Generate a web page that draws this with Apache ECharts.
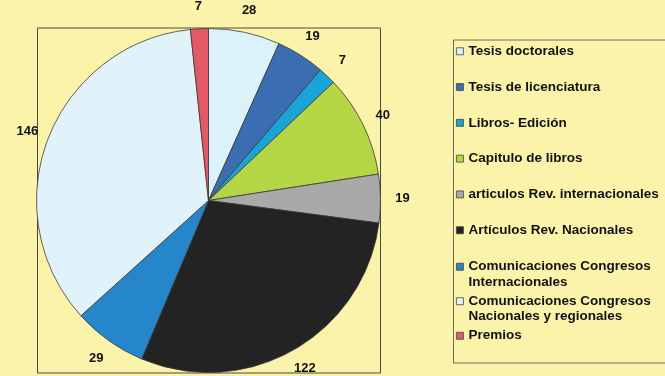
<!DOCTYPE html>
<html>
<head>
<meta charset="utf-8">
<script src="https://cdn.jsdelivr.net/npm/echarts@6/dist/echarts.min.js"></script>
<style>
html,body{margin:0;padding:0;background:#fcf3ab;}
#c{width:665px;height:376px;}
</style>
</head>
<body>
<div id="c"></div>
<script>
const categories = [
  'Tesis doctorales',
  'Tesis de licenciatura',
  'Libros- Edición',
  'Capitulo de libros',
  'articulos Rev. internacionales',
  'Artículos Rev. Nacionales',
  'Comunicaciones Congresos Internacionales',
  'Comunicaciones Congresos Nacionales y regionales',
  'Premios'
];
const values = [28, 19, 7, 40, 19, 122, 29, 146, 7];
const colors = ['#dcf2fa', '#3b6db3', '#1aa3d6', '#b5d645', '#a9a9a9', '#232323', '#2586cc', '#e2f2fa', '#e35a66'];

const pieData = categories.map((n, i) => ({ name: n, value: values[i], itemStyle: { color: colors[i] } }));
const labelData = categories.map((n, i) => ({ name: n, value: values[i] }));

const FONT = '"Liberation Sans", Arial, sans-serif';
const legendText = { fontFamily: FONT, fontWeight: 'bold', fontSize: 13.5, color: '#111', lineHeight: 15.5 };
const twoLine = n => '\n' + n.replace('Congresos ', 'Congresos\n');

function legendBlock(names, top, gap, multi) {
  return {
    data: names,
    orient: 'vertical',
    left: 456,
    top: top,
    padding: 0,
    itemGap: gap,
    itemWidth: 7,
    itemHeight: 7,
    icon: 'rect',
    selectedMode: false,
    itemStyle: { borderColor: '#444', borderWidth: 0.8 },
    formatter: multi ? twoLine : undefined,
    textStyle: legendText
  };
}

const chart = echarts.init(document.getElementById('c'));
chart.setOption({
  backgroundColor: '#fcf3ab',
  animation: false,
  graphic: [
    { type: 'rect', shape: { x: 37.5, y: 28, width: 343, height: 345 }, style: { fill: 'none', stroke: '#4a4a40', lineWidth: 1 }, z: -1 },
    { type: 'rect', shape: { x: 453.5, y: 40, width: 240, height: 323 }, style: { fill: 'none', stroke: '#6a6a60', lineWidth: 1 }, z: -1 }
  ],
  legend: [
    legendBlock(categories.slice(0, 6), 43.5, 20.3, false),
    legendBlock([categories[6]], 243.5, 0, true),
    legendBlock([categories[7]], 278, 0, true),
    legendBlock([categories[8]], 328, 0, false)
  ],
  series: [
    {
      type: 'pie',
      center: [208.5, 200.5],
      radius: 172,
      startAngle: 90,
      clockwise: true,
      avoidLabelOverlap: false,
      label: { show: false },
      labelLine: { show: false },
      itemStyle: { borderColor: '#3a3a3a', borderWidth: 0.8 },
      emphasis: { disabled: true },
      data: pieData
    },
    {
      type: 'pie',
      center: [208.5, 200.5],
      radius: [178, 204],
      startAngle: 90,
      clockwise: true,
      silent: true,
      avoidLabelOverlap: false,
      legendHoverLink: false,
      itemStyle: { color: 'rgba(0,0,0,0)', borderWidth: 0 },
      label: {
        show: true,
        position: 'inside',
        formatter: p => String(p.value),
        fontFamily: FONT,
        fontWeight: 'bold',
        fontSize: 13,
        color: '#111'
      },
      labelLine: { show: false },
      emphasis: { disabled: true },
      data: labelData
    }
  ]
});
</script>
</body>
</html>
